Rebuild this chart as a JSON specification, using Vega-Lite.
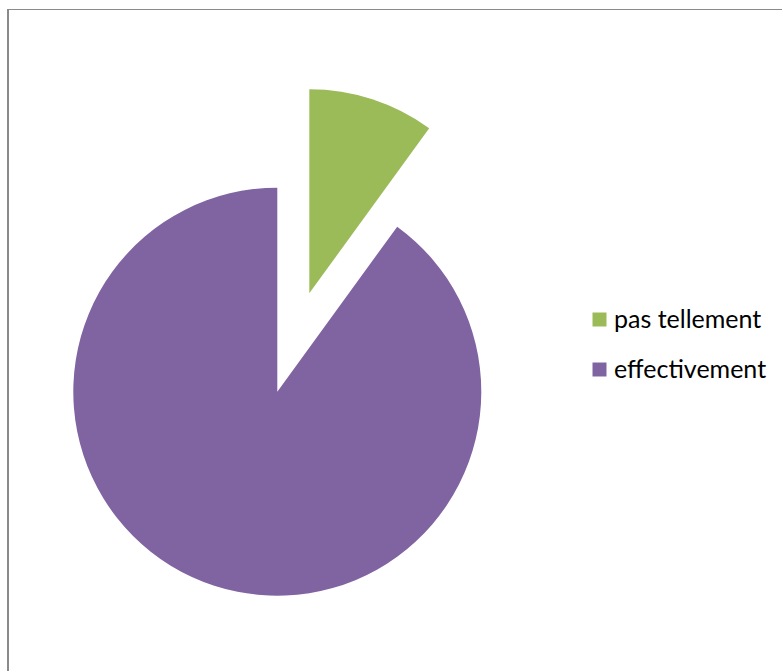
{
  "$schema": "https://vega.github.io/schema/vega-lite/v6.json",
  "width": 783,
  "height": 672,
  "autosize": {"type": "fit", "contains": "padding"},
  "padding": {"left": 6, "top": 8, "right": 0, "bottom": 0},
  "background": "white",
  "config": {"view": {"stroke": null}},
  "data": {
    "values": [
      {"category": "pas tellement", "value": 10},
      {"category": "effectivement", "value": 90}
    ]
  },
  "transform": [
    {"stack": "value", "groupby": [], "as": ["v0", "v1"], "sort": [{"field": "category", "order": "descending"}]}
  ],
  "layer": [
    {
      "mark": {"type": "rule", "color": "#8a8a8a", "strokeWidth": 2},
      "encoding": {"x": {"value": 1}}
    },
    {
      "mark": {"type": "rule", "color": "#8a8a8a", "strokeWidth": 1},
      "encoding": {"y": {"value": 0.5}}
    },
    {
      "transform": [{"filter": "datum.category === 'effectivement'"}],
      "mark": {"type": "arc", "outerRadius": 204, "xOffset": -117.2, "yOffset": 51.7},
      "encoding": {
        "theta": {"field": "v0", "type": "quantitative", "scale": {"domain": [0, 100]}},
        "theta2": {"field": "v1"},
        "color": {"field": "category", "type": "nominal", "title": null,
          "scale": {"domain": ["pas tellement", "effectivement"], "range": ["#9BBB59", "#8064A2"]},
          "legend": {"orient": "none", "legendX": 580, "legendY": 298, "padding": 0,
            "symbolType": "square", "symbolSize": 196, "symbolStrokeWidth": 0, "symbolOpacity": 1,
            "labelFont": "Lato", "labelFontSize": 25, "labelColor": "#000000", "labelOffset": 2,
            "rowPadding": 24, "labelLimit": 300}}
      }
    },
    {
      "transform": [{"filter": "datum.category === 'pas tellement'"}],
      "mark": {"type": "arc", "outerRadius": 204, "xOffset": -85.2, "yOffset": -46.7},
      "encoding": {
        "theta": {"field": "v0", "type": "quantitative", "scale": {"domain": [0, 100]}},
        "theta2": {"field": "v1"},
        "color": {"field": "category", "type": "nominal"}
      }
    }
  ]
}
